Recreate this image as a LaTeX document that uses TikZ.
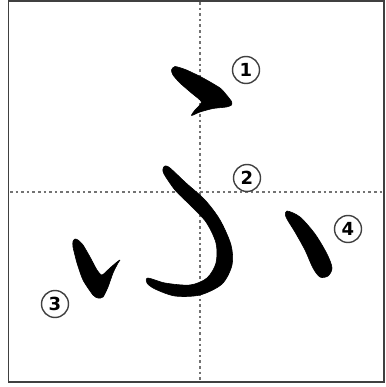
\documentclass[tikz,border=0pt]{standalone}
\usepackage{fontspec}
\setsansfont{DejaVu Sans}
\usepackage{tikz}

\tikzset{
  kanastroke/.style={fill=black,draw=black,line width=0.6pt,line join=round},
  guideline/.style={draw=black!55,line width=2.8pt,dash pattern=on 2.6pt off 3pt},
  ordermark/.style={circle,draw=black!75,line width=1.4pt,minimum size=27pt,inner sep=0pt,
    font=\fontsize{18}{18}\sffamily\bfseries}
}

\begin{document}
\begin{tikzpicture}[x=1pt,y=-1pt]
        \useasboundingbox (0,0) rectangle (385,387);
        % frame and guides
        \draw[line width=1.8pt,black!75] (8.5,1) rectangle (384,382);
        \draw[guideline] (200,2) -- (200,381);
        \draw[guideline] (10,192) -- (383,192);

        % stroke 1
        \fill[kanastroke] plot[smooth cycle,tension=0.4] coordinates {(171.5,70) (175,66.5) (186.5,70) (203,78) (220,88) (226.5,95) (231.5,101.5) (231.5,105) (226.5,107) (213,108.5) (200,112) (191.5,115.5) (195,110) (201.5,102) (191.5,93) (180,83) (173,75)};
        % stroke 2
        \fill[kanastroke] plot[smooth cycle,tension=0.5] coordinates {(165,166) (170,168) (186,183) (205,200) (220,220) (231,245) (232,265) (222,284) (200,295) (175,296) (155,289) (147,283) (148,278) (165,283) (190,285) (207,278) (216,263) (216,243) (206,222) (190,205) (175,190) (164,174) (163,169)};
        % stroke 3
        \fill[kanastroke] plot[smooth cycle,tension=0.4] coordinates {(73,241.5) (75,239) (78,240) (83,245) (90,257) (97,270) (102,275) (110,268) (117,262) (120,260) (118,263) (113,273) (108,287) (103,297) (98,298) (93,295) (83,280) (77,263) (73,247)};
        % stroke 4
        \fill[kanastroke] plot[smooth cycle,tension=0.5] coordinates {(287,211) (300,217) (315,234) (327,254) (332,268) (328,276) (320,277) (313,268) (305,250) (295,232) (286,217)};

        % stroke numbers
        \node[ordermark] (n1) at (246,70) {1};
        \node[ordermark] (n2) at (247,178) {2};
        \node[ordermark] (n3) at (55,304) {3};
        \node[ordermark] (n4) at (348,229) {4};
\end{tikzpicture}
\end{document}
